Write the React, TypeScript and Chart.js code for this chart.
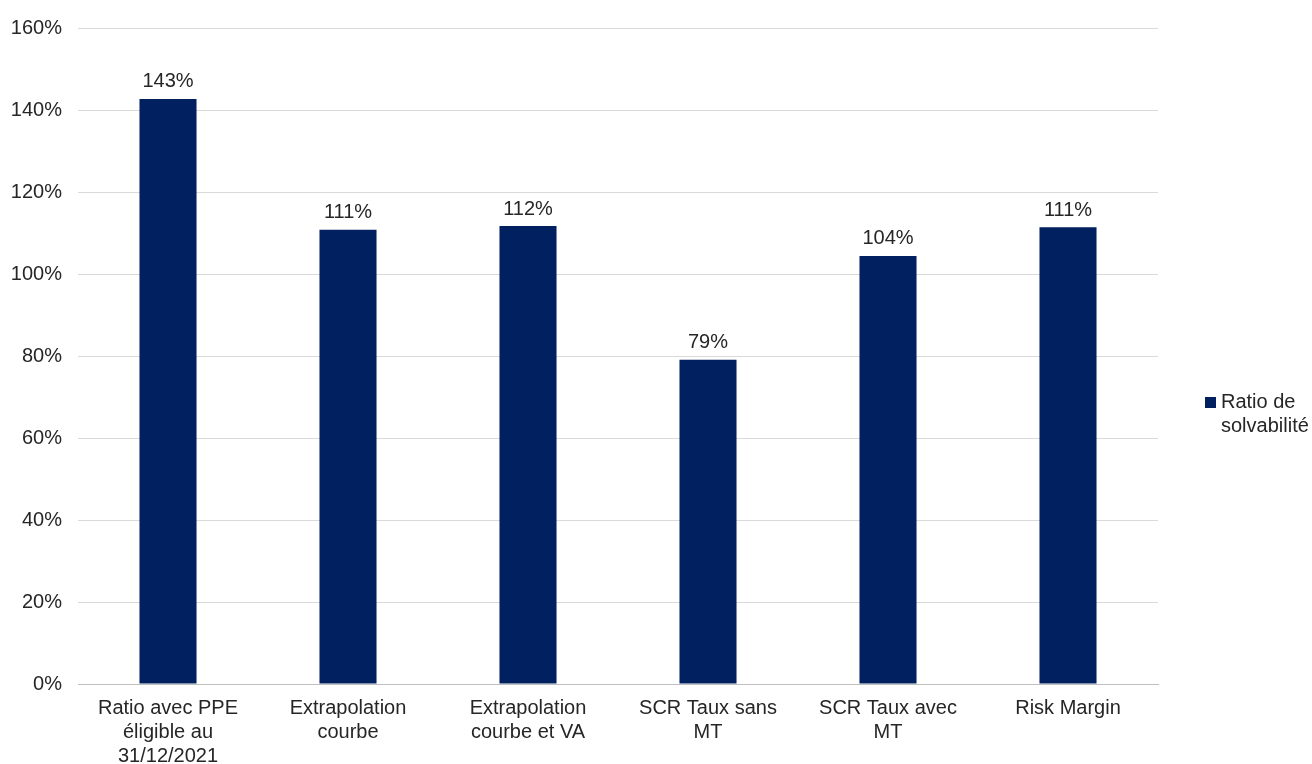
import React, { useEffect, useRef } from "react";
import { Chart, registerables } from "chart.js";

Chart.register(...registerables);

const categories: string[][] = [
  ["Ratio avec PPE", "éligible au", "31/12/2021"],
  ["Extrapolation", "courbe"],
  ["Extrapolation", "courbe et VA"],
  ["SCR Taux sans", "MT"],
  ["SCR Taux avec", "MT"],
  ["Risk Margin"],
];
const ratioValues: number[] = [142.7, 110.8, 111.7, 79.1, 104.4, 111.4];
const seriesName: string[] = ["Ratio de", "solvabilité"];
const barColor = "#002060";
const FONT = "'Liberation Sans', Arial, sans-serif";
const FS = 20;

const dataLabelPlugin = {
  id: "dataLabels",
  afterDatasetsDraw(chart: any) {
    const ctx = chart.ctx;
    const meta = chart.getDatasetMeta(0);
    ctx.save();
    ctx.font = `${FS}px ${FONT}`;
    ctx.fillStyle = "#262626";
    ctx.textAlign = "center";
    ctx.textBaseline = "bottom";
    meta.data.forEach((el: any, i: number) => {
      const v = chart.data.datasets[0].data[i];
      ctx.fillText(`${Math.round(v)}%`, el.x, el.y - 7);
    });
    ctx.restore();
  },
};

const sideLegendPlugin = {
  id: "sideLegend",
  afterDraw(chart: any) {
    const ctx = chart.ctx;
    const x0 = 1205;
    const y0 = 402;
    ctx.save();
    ctx.fillStyle = barColor;
    ctx.fillRect(x0, y0 - 5, 11, 11);
    ctx.font = `${FS}px ${FONT}`;
    ctx.fillStyle = "#262626";
    ctx.textAlign = "left";
    ctx.textBaseline = "middle";
    seriesName.forEach((line, i) => {
      ctx.fillText(line, x0 + 16, y0 + i * 24);
    });
    ctx.restore();
  },
};

export default function App() {
  const ref = useRef<HTMLCanvasElement | null>(null);
  useEffect(() => {
    if (!ref.current) return;
    const chart = new Chart(ref.current, {
      type: "bar",
      data: {
        labels: categories,
        datasets: [
          {
            label: seriesName.join(" "),
            data: ratioValues,
            backgroundColor: barColor,
            barPercentage: 0.317,
            categoryPercentage: 1,
          },
        ],
      },
      options: {
        animation: false,
        responsive: false,
        maintainAspectRatio: false,
        layout: { padding: { top: 26, right: 154, bottom: 0, left: 0 } },
        plugins: {
          legend: { display: false },
          tooltip: { enabled: false },
        },
        scales: {
          x: {
            grid: { display: false, drawTicks: false },
            border: { display: true, color: "#bfbfbf", width: 1 },
            ticks: {
              color: "#262626",
              font: { family: FONT, size: FS, lineHeight: 1.2 },
              padding: 12,
              maxRotation: 0,
              autoSkip: false,
            },
            afterFit(scale: any) {
              scale.height = 80;
            },
          },
          y: {
            min: 0,
            max: 160,
            ticks: {
              stepSize: 20,
              color: "#262626",
              font: { family: FONT, size: FS },
              padding: 16,
              callback: (v: any) => `${v}%`,
            },
            grid: { color: "#d9d9d9", drawTicks: false, lineWidth: 1 },
            border: { display: false },
            afterFit(scale: any) {
              scale.width = 78;
            },
          },
        },
      },
      plugins: [dataLabelPlugin, sideLegendPlugin],
    });
    return () => chart.destroy();
  }, []);
  return (
    <div style={{ position: "fixed", left: 0, top: 0, width: 1312, height: 764, background: "#fff" }}>
      <canvas ref={ref} width={1312} height={764} style={{ width: 1312, height: 764, display: "block" }} />
    </div>
  );
}
